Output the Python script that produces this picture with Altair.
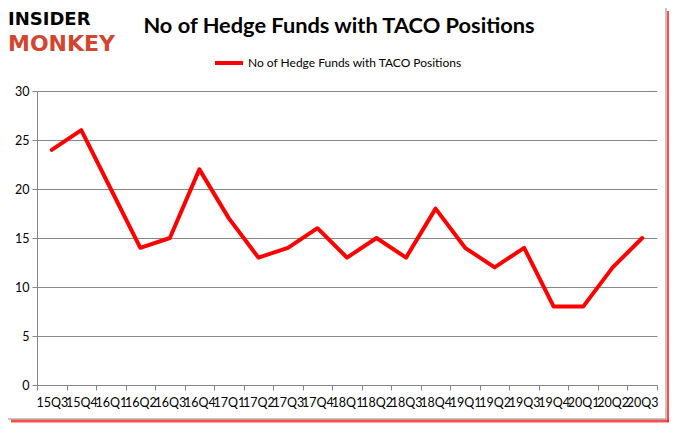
import altair as alt
import pandas as pd

quarters = ["15Q3", "15Q4", "16Q1", "16Q2", "16Q3", "16Q4", "17Q1", "17Q2", "17Q3", "17Q4",
            "18Q1", "18Q2", "18Q3", "18Q4", "19Q1", "19Q2", "19Q3", "19Q4", "20Q1", "20Q2", "20Q3"]
funds = [24, 26, 20, 14, 15, 22, 17, 13, 14, 16, 13, 15, 13, 18, 14, 12, 14, 8, 8, 12, 15]
series_name = "No of Hedge Funds with TACO Positions"
title_text = "No of Hedge Funds with TACO Positions"

df = pd.DataFrame({"quarter": quarters, "funds": funds, "series": [series_name] * len(quarters)})

W, H = 620, 294
FONT = "Lato"

line = alt.Chart(df).mark_line(strokeWidth=4, strokeCap="round", strokeJoin="round").encode(
    x=alt.X("quarter:N", sort=quarters,
            scale=alt.Scale(type="band", paddingInner=0, paddingOuter=0),
            axis=alt.Axis(title=None, labelAngle=0, labelOverlap=False, labelFlush=False,
                          tickBand="extent", grid=False, domainColor="#868686",
                          tickColor="#868686", tickSize=5, labelFontSize=12.5,
                          labelPadding=6, labelColor="#000000", labelFont=FONT)),
    y=alt.Y("funds:Q", scale=alt.Scale(domain=[0, 30], nice=False),
            axis=alt.Axis(title=None, values=[0, 5, 10, 15, 20, 25, 30], grid=True,
                          gridColor="#868686", domainColor="#868686", tickColor="#868686",
                          tickSize=5, labelFontSize=12.5, labelPadding=3,
                          labelColor="#000000", labelFont=FONT)),
    color=alt.Color("series:N", scale=alt.Scale(domain=[series_name], range=["#ff0000"]),
                    legend=alt.Legend(title=None, orient="none", legendX=176, legendY=-44,
                                      symbolType="stroke", symbolSize=784, symbolStrokeWidth=4,
                                      labelFontSize=12, labelFont=FONT, labelColor="#000000",
                                      labelLimit=0, direction="horizontal", labelOffset=3)),
)

title = alt.Chart(pd.DataFrame({"t": [title_text]})).mark_text(
    font=FONT, fontSize=21.8, fontWeight="bold", color="#000000", align="center", baseline="alphabetic"
).encode(text="t:N", x=alt.value(302), y=alt.value(-58))

logo1 = alt.Chart(pd.DataFrame({"t": ["INSIDER"]})).mark_text(
    font="DejaVu Sans", fontSize=18, fontWeight="bold", color="#000000", align="left", baseline="alphabetic"
).encode(text="t:N", x=alt.value(-29), y=alt.value(-66))

logo2 = alt.Chart(pd.DataFrame({"t": ["MONKEY"]})).mark_text(
    font="DejaVu Sans", fontSize=22, fontWeight="bold", color="#d2452f", align="left", baseline="alphabetic"
).encode(text="t:N", x=alt.value(-29), y=alt.value(-40))

frame_r = alt.Chart(pd.DataFrame({"a": [0]})).mark_rule(color="#8c8c8c", strokeWidth=1).encode(
    x=alt.value(629), y=alt.value(-83), y2=alt.value(328))
frame_b = alt.Chart(pd.DataFrame({"a": [0]})).mark_rule(color="#8c8c8c", strokeWidth=1).encode(
    x=alt.value(-29), x2=alt.value(629), y=alt.value(328))
shadow_r = alt.Chart(pd.DataFrame({"a": [0]})).mark_rule(color="#ff2020", strokeWidth=2, opacity=0.8).encode(
    x=alt.value(631), y=alt.value(-80), y2=alt.value(331))
shadow_b = alt.Chart(pd.DataFrame({"a": [0]})).mark_rule(color="#ff2020", strokeWidth=3, opacity=0.8).encode(
    x=alt.value(-26), x2=alt.value(632), y=alt.value(330))

chart = alt.layer(shadow_r, shadow_b, frame_r, frame_b, line, title, logo1, logo2).properties(
    width=W, height=H,
    autosize=alt.AutoSizeParams(type="none"),
    padding={"left": 29, "top": 83, "right": 12, "bottom": 38},
    background="#ffffff",
).configure_view(stroke=None)

chart.save("out.html", embed_options={"renderer": "svg", "actions": False})
